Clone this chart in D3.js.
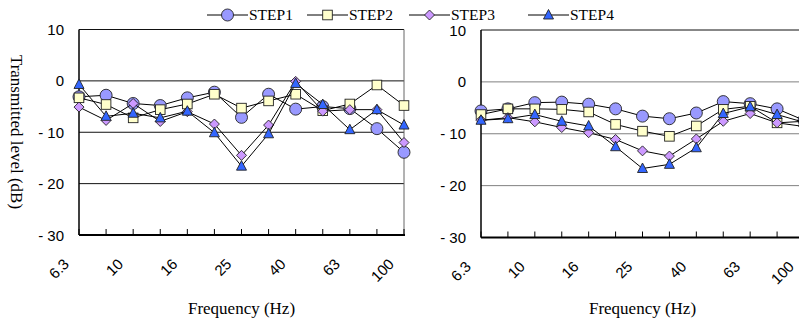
<!DOCTYPE html>
<html lang="en">
  <head>
    <meta charset="UTF-8" />
    <title>Transmitted level</title>
    <script src="https://d3js.org/d3.v7.min.js"></script>
    <style>
      body { margin: 0; background: #fff; }
      svg { display: block; }
    </style>
  </head>
  <body>
    <svg width="799" height="325"></svg>
    <script>
      // frequency bands (Hz)
      const freqs = ["6.3", "8", "10", "12.5", "16", "20", "25", "31.5", "40", "50", "63", "80", "100"];
      const shownLabels = ["6.3", "10", "16", "25", "40", "63", "100"];
      const yTicks = [10, 0, -10, -20, -30];
      const seriesNames = ["STEP1", "STEP2", "STEP3", "STEP4"];

      // left panel
      const left1 = [-3.1, -2.8, -4.4, -4.8, -3.3, -2.2, -7.1, -2.6, -5.5, -5.0, -5.4, -9.3, -13.9];
      const left2 = [-3.3, -4.6, -7.2, -5.6, -4.5, -2.6, -5.3, -3.9, -2.6, -5.8, -4.5, -0.8, -4.8];
      const left3 = [-5.1, -7.7, -4.4, -7.9, -6.0, -8.4, -14.5, -8.6, -0.1, -5.9, -5.6, -5.6, -12.0];
      const left4 = [-0.7, -6.9, -6.3, -7.2, -5.9, -10.1, -16.6, -10.3, -0.5, -4.6, -9.5, -5.6, -8.6];

      // right panel
      const right1 = [-5.6, -5.2, -4.0, -3.9, -4.3, -5.2, -6.6, -7.1, -6.0, -3.8, -4.2, -5.2, -7.4];
      const right2 = [-6.3, -5.2, -5.2, -5.3, -5.8, -8.2, -9.5, -10.5, -8.5, -5.3, -4.7, -7.9, -7.6];
      const right3 = [-7.4, -6.9, -7.7, -8.8, -9.8, -11.1, -13.3, -14.3, -11.0, -7.6, -6.1, -7.9, -8.6];
      const right4 = [-7.4, -7.1, -6.3, -7.6, -8.5, -12.5, -16.7, -15.9, -12.7, -6.1, -4.8, -6.3, -7.8];

      const fills = ["#9999ff", "#ffffcc", "#cc99ff", "#3366ff"];
      const shapes = ["circle", "square", "diamond", "triangle"];
      const sans = "'Liberation Sans', Arial, sans-serif";
      const serif = "'Liberation Serif', 'Times New Roman', serif";

      const svg = d3.select("svg");

      function marker(g, shape, fill) {
        let m;
        if (shape == "circle") {
          m = g.append("circle").attr("r", 6);
        } else if (shape == "square") {
          m = g.append("rect").attr("x", -4.8).attr("y", -4.8).attr("width", 9.6).attr("height", 9.6);
        } else if (shape == "diamond") {
          m = g.append("path").attr("d", "M0,-5L5,0L0,5L-5,0Z");
        } else {
          m = g.append("path").attr("d", "M0,-5.5L5,4L-5,4Z");
        }
        m.attr("fill", fill).attr("stroke", "#222").attr("stroke-width", 0.9);
      }

      function panel(opts) {
        const x = d3.scalePoint().domain(freqs).range([opts.x0, opts.x1]);
        const y = d3.scaleLinear().domain([-30, 10]).range([opts.yb, opts.yt]);
        const g = svg.append("g");

        // grid
        g.selectAll(".grid")
          .data([0, -10, -20])
          .enter()
          .append("line")
          .attr("x1", opts.x0)
          .attr("x2", opts.x1)
          .attr("y1", (d) => y(d))
          .attr("y2", (d) => y(d))
          .attr("stroke", opts.gridColor)
          .attr("stroke-width", 1);

        // frame top + right
        g.append("line").attr("x1", opts.x0).attr("x2", opts.x1)
          .attr("y1", y(10)).attr("y2", y(10)).attr("stroke", "#111");
        g.append("line").attr("x1", opts.x1).attr("x2", opts.x1)
          .attr("y1", y(10)).attr("y2", y(-30)).attr("stroke", "#666");

        // axes
        g.append("line").attr("x1", opts.x0).attr("x2", opts.x0)
          .attr("y1", y(10)).attr("y2", y(-30)).attr("stroke", "#000").attr("stroke-width", 1.5);
        g.append("line").attr("x1", opts.x0).attr("x2", opts.x1 + 1)
          .attr("y1", y(-30)).attr("y2", y(-30)).attr("stroke", "#000").attr("stroke-width", 2);

        g.selectAll(".xt")
          .data(freqs)
          .enter()
          .append("line")
          .attr("x1", (d) => x(d))
          .attr("x2", (d) => x(d))
          .attr("y1", y(-30))
          .attr("y2", y(-30) - 6)
          .attr("stroke", "#000");

        g.selectAll(".tick-x")
          .data(shownLabels)
          .enter()
          .append("text")
          .attr("font-family", sans)
          .attr("font-size", 15)
          .attr("text-anchor", "end")
          .attr("transform", (d) => "translate(" + (x(d) - 9) + "," + (y(-30) + 30) + ") rotate(-45)")
          .text((d) => d);

        g.selectAll(".tick-y")
          .data(yTicks)
          .enter()
          .append("text")
          .attr("font-family", sans)
          .attr("font-size", 15)
          .attr("text-anchor", "end")
          .attr("x", opts.x0 - 15)
          .attr("y", (d) => y(d) + 5.5)
          .text((d) => (d < 0 ? "- " + Math.abs(d) : d));

        g.append("text")
          .attr("font-family", serif)
          .attr("font-size", 17)
          .attr("text-anchor", "middle")
          .attr("x", (opts.x0 + opts.x1) / 2)
          .attr("y", 314)
          .text("Frequency (Hz)");

        const line = d3.line().x((d, i) => x(freqs[i])).y((d) => y(d));

        opts.series.forEach((s, k) => {
          g.append("path")
            .attr("d", line(s))
            .attr("fill", "none")
            .attr("stroke", "#000")
            .attr("stroke-width", 1);
          s.forEach((v, i) => {
            const mg = g.append("g").attr("transform", "translate(" + x(freqs[i]) + "," + y(v) + ")");
            marker(mg, shapes[k], fills[k]);
          });
        });
      }

      panel({ x0: 79, x1: 404, yt: 29.5, yb: 235, gridColor: "#111",
        series: [left1, left2, left3, left4] });
      panel({ x0: 481, x1: 804, yt: 30, yb: 237.5, gridColor: "#808080",
        series: [right1, right2, right3, right4] });

      // y axis title
      svg.append("text")
        .attr("font-family", serif)
        .attr("font-size", 17)
        .attr("text-anchor", "middle")
        .attr("transform", "translate(11,132) rotate(90)")
        .text("Transmitted level (dB)");

      // legend
      const legendX = [207, 307, 409, 528];
      const legend = svg.append("g");
      seriesNames.forEach((name, k) => {
        const lg = legend.append("g").attr("transform", "translate(" + legendX[k] + ",15)");
        lg.append("line").attr("x1", 0).attr("x2", 41).attr("y1", 0).attr("y2", 0)
          .attr("stroke", "#000");
        marker(lg.append("g").attr("transform", "translate(20.5,0)"), shapes[k], fills[k]);
        lg.append("text")
          .attr("font-family", serif)
          .attr("font-size", 15.5)
          .attr("x", 42)
          .attr("y", 5)
          .text(name);
      });
    </script>
  </body>
</html>
